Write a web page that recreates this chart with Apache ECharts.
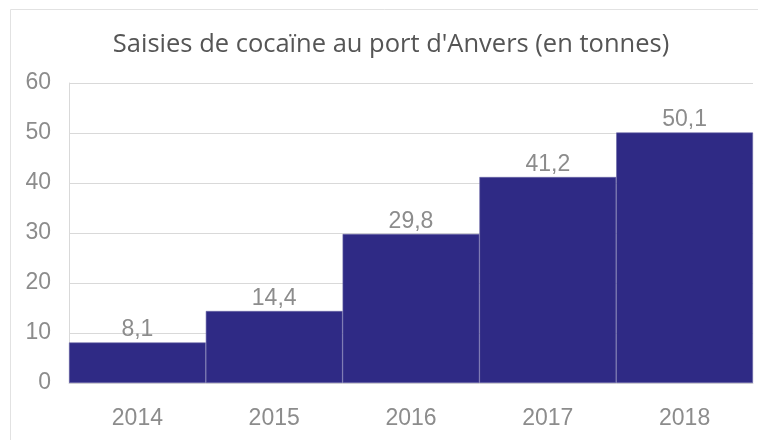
<!DOCTYPE html>
<html>
<head>
<meta charset="UTF-8">
<title>Saisies de cocaïne</title>
<script src="https://cdn.jsdelivr.net/npm/echarts@6/dist/echarts.min.js"></script>
<style>
  html, body { margin: 0; padding: 0; background: #fff; }
  #container { width: 758px; height: 440px; }
</style>
</head>
<body>
	<div id="container"></div>
	<script type="text/javascript">
	// données
	var years = ['2014', '2015', '2016', '2017', '2018'];
	var tonnes = [8.1, 14.4, 29.8, 41.2, 50.1];
	var titleText = "Saisies de cocaïne au port d'Anvers (en tonnes)";

	var myChart = echarts.init(document.getElementById('container'));

	var option = {
		animation: false,
		backgroundColor: '#fff',
		title: {
			text: titleText,
			left: 386,
			textAlign: 'center',
			top: 27,
			textStyle: {
				fontFamily: 'Open Sans',
				fontWeight: 'normal',
				fontSize: 25.5,
				color: '#555555'
			}
		},
		graphic: [{
			type: 'rect',
			shape: { x: 10.5, y: 9.5, width: 760, height: 440 },
			style: { fill: 'none', stroke: '#e2e2e2', lineWidth: 1 },
			silent: true
		}],
		grid: { left: 69, right: 5, top: 83, bottom: 57 },
		xAxis: {
			type: 'category',
			data: years,
			axisTick: { show: false },
			axisLine: { lineStyle: { color: '#d9d9d9' } },
			axisLabel: {
				fontFamily: 'Liberation Sans',
				fontSize: 23,
				color: '#8c8c8c',
				margin: 24
			}
		},
		yAxis: {
			type: 'value',
			min: 0,
			max: 60,
			interval: 10,
			axisLine: { show: true, lineStyle: { color: '#d9d9d9' } },
			axisTick: { show: false },
			splitLine: { lineStyle: { color: '#d9d9d9', width: 1 } },
			axisLabel: {
				fontFamily: 'Liberation Sans',
				fontSize: 23,
				color: '#8c8c8c',
				margin: 18
			}
		},
		series: [{
			type: 'bar',
			data: tonnes,
			barCategoryGap: 0,
			itemStyle: {
				color: '#2f2a85',
				borderColor: '#6a66a6',
				borderWidth: 0.6
			},
			label: {
				show: true,
				position: 'top',
				distance: 1,
				fontFamily: 'Liberation Sans',
				fontSize: 23,
				color: '#8c8c8c',
				formatter: function (p) {
					return String(p.value).replace('.', ',');
				}
			}
		}]
	};

	myChart.setOption(option);
    </script>
</body>
</html>
